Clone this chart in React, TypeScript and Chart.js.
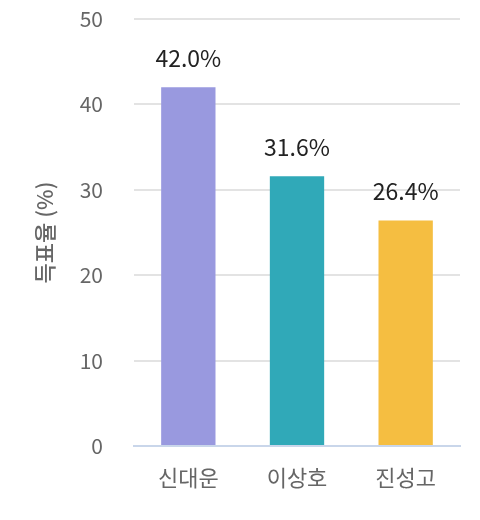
import React, { useEffect, useRef } from "react";
import { Chart, registerables } from "chart.js";

Chart.register(...registerables);

const categories = ["신대운", "이상호", "진성고"];
const voteShare = [42.0, 31.6, 26.4];
const barColors = ["#9999df", "#30a9b8", "#f5be41"];
const yTicks = [0, 10, 20, 30, 40, 50];

const FONT = "'Noto Sans CJK KR', 'Noto Sans', sans-serif";

const valueLabels = {
  id: "valueLabels",
  afterDatasetsDraw(chart: any) {
    const ctx = chart.ctx;
    const meta = chart.getDatasetMeta(0);
    ctx.save();
    ctx.font = `23px ${FONT}`;
    ctx.fillStyle = "#222222";
    ctx.textAlign = "center";
    ctx.textBaseline = "middle";
    meta.data.forEach((bar: any, i: number) => {
      ctx.fillText(voteShare[i].toFixed(1) + "%", bar.x, bar.y - 29);
    });
    ctx.restore();
  },
};

export default function App() {
  const ref = useRef<HTMLCanvasElement | null>(null);
  useEffect(() => {
    if (!ref.current) return;
    const chart = new Chart(ref.current, {
      type: "bar",
      data: {
        labels: categories,
        datasets: [
          {
            data: voteShare,
            backgroundColor: barColors,
            barPercentage: 0.5,
            categoryPercentage: 1.0,
          },
        ],
      },
      options: {
        animation: false,
        responsive: false,
        devicePixelRatio: 1,
        layout: { padding: { top: 19, right: 20, left: 10, bottom: 0 } },
        plugins: {
          legend: { display: false },
          tooltip: { enabled: false },
        },
        scales: {
          x: {
            grid: { display: false, drawTicks: false },
            border: { display: true, color: "#c9d6ea", width: 2 },
            ticks: { color: "#666666", font: { size: 22, family: FONT }, padding: 18 },
            afterFit: (axis: any) => {
              axis.height = 74;
              axis.paddingLeft = 0;
              axis.paddingRight = 0;
            },
          },
          y: {
            min: 0,
            max: 50,
            afterBuildTicks: (axis: any) => {
              axis.ticks = yTicks.map((v) => ({ value: v }));
            },
            afterFit: (axis: any) => {
              axis.width = 124;
              axis.paddingTop = 0;
              axis.paddingBottom = 0;
            },
            grid: { color: "#e3e3e3", lineWidth: 2, drawTicks: false },
            border: { display: false },
            ticks: { color: "#666666", font: { size: 21, family: FONT }, padding: 31 },
            title: {
              display: true,
              text: "득표율 (%)",
              color: "#666666",
              font: { size: 22, family: FONT, weight: 500 },
              padding: { top: 21, bottom: 0 },
            },
          },
        },
      },
      plugins: [valueLabels],
    });
    return () => chart.destroy();
  }, []);
  return (
    <div style={{ position: "fixed", left: 0, top: 0, width: 480, height: 520, background: "#fff" }}>
      <canvas ref={ref} width={480} height={520} />
    </div>
  );
}
